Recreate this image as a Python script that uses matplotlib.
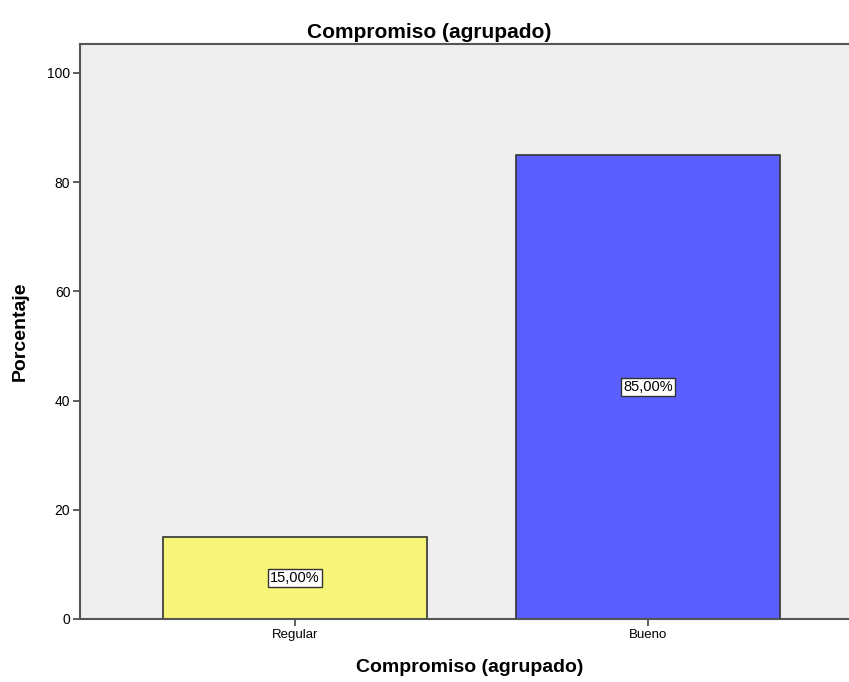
import matplotlib.pyplot as plt

categories = ["Regular", "Bueno"]
percentages = [15.0, 85.0]
bar_colors = ["#F8F67A", "#5B5FFF"]
bar_labels = ["15,00%", "85,00%"]
y_ticks = [0, 20, 40, 60, 80, 100]

plt.rcParams['font.family'] = ['Liberation Sans', 'DejaVu Sans']

fig = plt.figure(figsize=(8.49, 6.82), dpi=100)
ax = fig.add_axes([80 / 849, 1 - 619 / 682, 1 - 80 / 849, (619 - 44) / 682])
ax.set_facecolor("#EFEFEF")

x = range(len(categories))
bars = ax.bar(x, percentages, width=0.748, color=bar_colors,
              edgecolor="#333333", linewidth=1.2, zorder=2)

# value labels in the middle of each bar
for rect, lab in zip(bars, bar_labels):
    xc = rect.get_x() + rect.get_width() / 2
    ax.text(xc, rect.get_height() / 2, lab, ha="center", va="center",
            fontsize=10.5, zorder=3,
            bbox=dict(boxstyle="square,pad=0.15", facecolor="white",
                      edgecolor="#333333", linewidth=1))

ax.set_xlim(-0.609, 1.57)
ax.set_ylim(0, 105.3)
ax.set_xticks(list(x))
ax.set_xticklabels(categories, fontsize=9.5)
ax.set_yticks(y_ticks)
ax.set_yticklabels([str(t) for t in y_ticks], fontsize=10)
ax.tick_params(axis="both", direction="out", length=5, width=1.2,
               color="#444444", pad=2)

for side in ["left", "bottom", "top"]:
    ax.spines[side].set_color("#555555")
    ax.spines[side].set_linewidth(1.5)
ax.spines["right"].set_visible(False)

fig.text(429 / 849, 1 - 32 / 682, "Compromiso (agrupado)", ha="center", va="center",
         fontsize=15, fontweight="bold")
fig.text(470 / 849, 1 - 668 / 682, "Compromiso (agrupado)", ha="center", va="center",
         fontsize=14, fontweight="bold")
fig.text(20 / 849, 1 - 331 / 682, "Porcentaje", ha="center", va="center",
         rotation=90, fontsize=14, fontweight="bold")

fig.savefig("out.png", dpi=100)
